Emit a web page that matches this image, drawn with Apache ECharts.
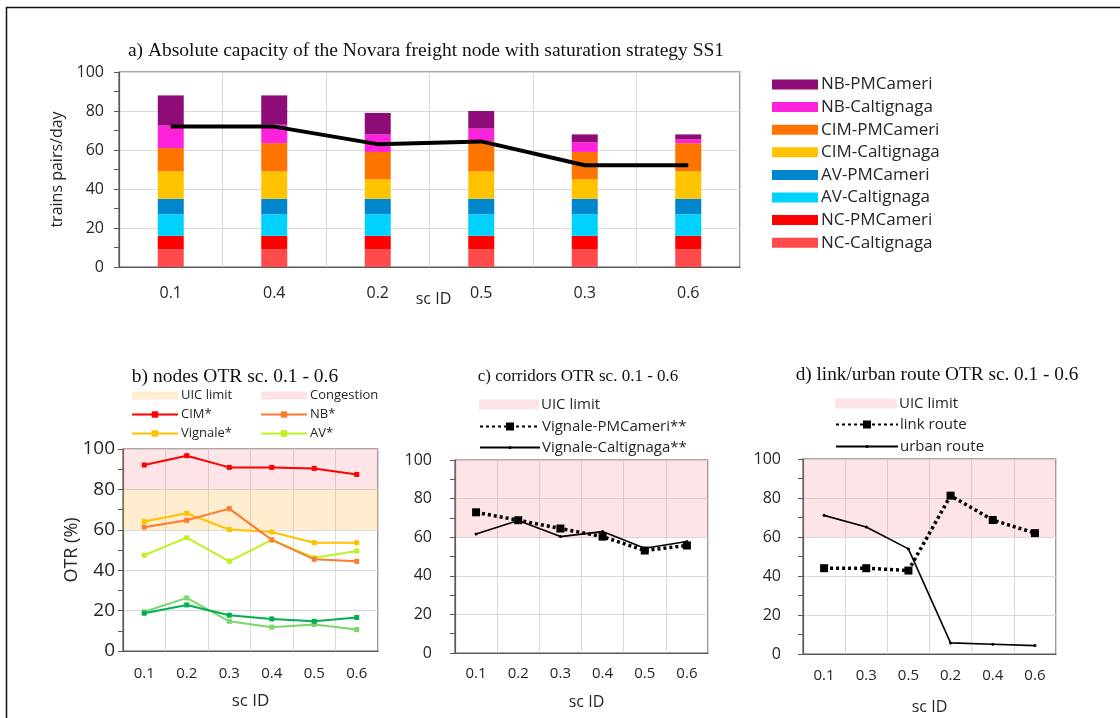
<!DOCTYPE html>
<html>
<head>
<meta charset="utf-8">
<script src="https://cdn.jsdelivr.net/npm/echarts@6/dist/echarts.min.js"></script>
<style>
html,body{margin:0;padding:0;background:#fff;}
#chart{width:1120px;height:718px;}
</style>
</head>
<body>
<div id="chart"></div>
<script>
// ---------- DATA ----------
// a) stacked capacity
const capCategories = ['0.1', '0.4', '0.2', '0.5', '0.3', '0.6'];
const ncCaltignaga  = [9, 9, 9, 9, 9, 9];
const ncPMCameri    = [7, 7, 7, 7, 7, 7];
const avCaltignaga  = [11, 11, 11, 11, 11, 11];
const avPMCameri    = [8, 8, 8, 8, 8, 8];
const cimCaltignaga = [14, 14, 10, 14, 10, 14];
const cimPMCameri   = [12, 14.5, 14, 15.5, 14, 14.5];
const nbCaltignaga  = [11.5, 9.5, 9, 6.5, 5, 2];
const nbPMCameri    = [15.5, 15, 11, 9, 4, 2.5];
const capLine       = [72, 72, 63, 64.4, 52.2, 52.2];
const capTicks      = [0, 20, 40, 60, 80, 100];

// b) nodes OTR
const nodeCategories = ['0.1', '0.2', '0.3', '0.4', '0.5', '0.6'];
const cimOTR      = [92.1, 96.7, 90.9, 90.9, 90.4, 87.4];
const nbOTR       = [61.3, 64.7, 70.5, 55.0, 45.4, 44.4];
const vignaleOTR  = [64.1, 68.2, 60.1, 58.9, 53.6, 53.6];
const avOTR       = [47.4, 56.1, 44.4, 55.0, 46.2, 49.5];
const greenLight  = [19.4, 26.3, 14.7, 11.8, 13.1, 10.6];
const greenDark   = [18.7, 22.8, 17.7, 15.9, 14.7, 16.6];

// c) corridors OTR
const corrCategories = ['0.1', '0.2', '0.3', '0.4', '0.5', '0.6'];
const vignalePMCameri   = [72.9, 68.8, 64.5, 60.3, 53.1, 55.7];
const vignaleCaltignaga = [61.6, 68.6, 60.3, 62.9, 54.3, 57.8];

// d) link / urban route OTR
const routeCategories = ['0.1', '0.3', '0.5', '0.2', '0.4', '0.6'];
const linkRoute  = [44.0, 44.0, 42.8, 81.2, 68.7, 62.0];
const urbanRoute = [71.1, 65.1, 53.9, 5.7, 5.0, 4.3];

// band limits
const uicLimitB   = [60, 80];
const congestionB = [80, 100];
const uicLimitCD  = [60, 100];

// ---------- STYLE ----------
const SANS = '"Open Sans", "Noto Sans", sans-serif';
const SERIF = '"Liberation Serif", "DejaVu Serif", serif';
const AX = '#595959';
const GRIDC = '#d9d9d9';
const TXT = '#262626';
const nulls = capCategories.map(() => null);

function catAxis(grid, data, fs, margin, name, nameGap, nameFs, namePad) {
  return {
    type: 'category', gridIndex: grid, data: data, boundaryGap: true,
    axisLine: {show: true, lineStyle: {color: AX, width: 1.2}},
    axisTick: {show: false},
    axisLabel: {color: TXT, fontFamily: SANS, fontSize: fs, margin: margin},
    splitLine: {show: true, lineStyle: {color: GRIDC, width: 1}},
    name: name, nameLocation: 'middle', nameGap: nameGap, nameMoveOverlap: false,
    nameTextStyle: {color: TXT, fontFamily: SANS, fontSize: nameFs, padding: namePad || 0}
  };
}
function valAxis(grid, fs, margin, name, nameGap, nameFs) {
  return {
    type: 'value', gridIndex: grid, min: 0, max: 100, interval: 20,
    axisLine: {show: true, lineStyle: {color: AX, width: 1.2}},
    axisTick: {show: true, length: 5, lineStyle: {color: AX}},
    minorTick: {show: true, splitNumber: 2, length: 5, lineStyle: {color: AX}},
    axisLabel: {color: TXT, fontFamily: SANS, fontSize: fs, margin: margin},
    splitLine: {show: true, lineStyle: {color: GRIDC, width: 1}},
    name: name, nameLocation: 'middle', nameGap: nameGap, nameMoveOverlap: false,
    nameTextStyle: {color: TXT, fontFamily: SANS, fontSize: nameFs}
  };
}
function barS(name, data, color) {
  return {name: name, type: 'bar', xAxisIndex: 0, yAxisIndex: 0, stack: 'cap',
    data: data, barWidth: 26, itemStyle: {color: color}};
}
function lineS(name, data, color, ax, opts) {
  return Object.assign({
    name: name, type: 'line', xAxisIndex: ax, yAxisIndex: ax, data: data,
    symbol: 'rect', symbolSize: 5, showSymbol: true,
    lineStyle: {color: color, width: 2}, itemStyle: {color: color}, z: 3
  }, opts || {});
}
function bandS(name, ax, range, fill, legendColor) {
  return {
    name: name, type: 'line', xAxisIndex: ax, yAxisIndex: ax, data: nulls,
    symbol: 'none', lineStyle: {color: legendColor, width: 0}, itemStyle: {color: legendColor},
    z: 1, silent: true,
    markArea: {silent: true, itemStyle: {color: fill}, data: [[{yAxis: range[0]}, {yAxis: range[1]}]]}
  };
}
function legendBox(opts) {
  return Object.assign({
    orient: 'vertical', itemWidth: 46, itemHeight: 8, itemGap: 6,
    selectedMode: false, padding: 0,
    textStyle: {color: TXT, fontFamily: SANS, fontSize: 13, padding: [0, 0, 0, -2]}
  }, opts);
}
const legTxt15 = {color: TXT, fontFamily: SANS, fontSize: 15, padding: [0, 0, 0, -3]};

const option = {
  animation: false,
  backgroundColor: '#fff',
  graphic: [
    {type: 'rect', shape: {x: 6.5, y: 7.5, width: 1300, height: 900}, style: {fill: 'none', stroke: '#111', lineWidth: 1.5}, silent: true},
    {type: 'text', x: 426, y: 51, style: {text: 'a) Absolute capacity of the Novara freight node with saturation strategy SS1', font: '19.5px ' + SERIF, fill: '#111', textAlign: 'center', textVerticalAlign: 'middle'}},
    {type: 'text', x: 235, y: 377, style: {text: 'b) nodes OTR sc. 0.1 - 0.6', font: '19.5px ' + SERIF, fill: '#111', textAlign: 'center', textVerticalAlign: 'middle'}},
    {type: 'text', x: 578, y: 377, style: {text: 'c) corridors OTR sc. 0.1 - 0.6', font: '17px ' + SERIF, fill: '#111', textAlign: 'center', textVerticalAlign: 'middle'}},
    {type: 'text', x: 937, y: 375, style: {text: 'd) link/urban route OTR sc. 0.1 - 0.6', font: '19.3px ' + SERIF, fill: '#111', textAlign: 'center', textVerticalAlign: 'middle'}}
  ],
  grid: [
    {left: 119, right: 380, top: 72, bottom: 451, show: true, borderColor: AX, borderWidth: 1.2, backgroundColor: 'transparent'},
    {left: 123, right: 742, top: 449, bottom: 67, show: true, borderColor: AX, borderWidth: 1.2, backgroundColor: 'transparent'},
    {left: 455, right: 412, top: 460, bottom: 65, show: true, borderColor: AX, borderWidth: 1.2, backgroundColor: 'transparent'},
    {left: 803, right: 64, top: 459, bottom: 64, show: true, borderColor: AX, borderWidth: 1.2, backgroundColor: 'transparent'}
  ],
  xAxis: [
    catAxis(0, capCategories, 16, 18, 'sc ID', 24, 16, [0, 0, 0, 8]),
    catAxis(1, nodeCategories, 15, 15, 'sc ID', 42, 17),
    catAxis(2, corrCategories, 15, 13, 'sc ID', 41, 16, [0, 0, 0, 10]),
    catAxis(3, routeCategories, 15, 14, 'sc ID', 45, 16)
  ],
  yAxis: [
    valAxis(0, 16, 15, 'trains pairs/day', 54, 16),
    valAxis(1, 19, 8, 'OTR (%)', 42, 18),
    valAxis(2, 16, 23, '', 0, 16),
    valAxis(3, 16, 22, '', 0, 16)
  ],
  legend: [
    legendBox({left: 772, top: 76, itemHeight: 10, itemGap: 5.6, icon: 'rect',
      textStyle: {color: TXT, fontFamily: SANS, fontSize: 17, padding: [0, 0, 0, -2]},
      data: ['NB-PMCameri', 'NB-Caltignaga', 'CIM-PMCameri', 'CIM-Caltignaga', 'AV-PMCameri', 'AV-Caltignaga', 'NC-PMCameri', 'NC-Caltignaga']}),
    legendBox({left: 131, top: 389, data: [{name: 'UIC limit ', icon: 'rect'}, 'CIM*', 'Vignale*']}),
    legendBox({left: 260, top: 389, data: [{name: 'Congestion', icon: 'rect'}, 'NB*', 'AV*']}),
    legendBox({left: 479, top: 397, itemWidth: 60, itemHeight: 10, textStyle: legTxt15,
      data: [{name: 'UIC limit', icon: 'rect'}]}),
    legendBox({left: 479, top: 419, itemWidth: 60, itemHeight: 10, textStyle: legTxt15,
      data: ['Vignale-PMCameri**']}),
    legendBox({left: 479, top: 440, itemWidth: 60, itemHeight: 4, textStyle: legTxt15,
      data: ['Vignale-Caltignaga**']}),
    legendBox({left: 835, top: 396, itemWidth: 62, itemHeight: 10, textStyle: legTxt15,
      data: [{name: 'UIC limit  ', icon: 'rect'}]}),
    legendBox({left: 835, top: 417, itemWidth: 62, itemHeight: 10, textStyle: legTxt15,
      data: ['link route']}),
    legendBox({left: 835, top: 439, itemWidth: 62, itemHeight: 4, textStyle: legTxt15,
      data: ['urban route']})
  ],
  series: [
    // a)
    barS('NC-Caltignaga', ncCaltignaga, '#ff4b4b'),
    barS('NC-PMCameri', ncPMCameri, '#ff0000'),
    barS('AV-Caltignaga', avCaltignaga, '#00d2ff'),
    barS('AV-PMCameri', avPMCameri, '#0086cc'),
    barS('CIM-Caltignaga', cimCaltignaga, '#ffc300'),
    barS('CIM-PMCameri', cimPMCameri, '#ff7300'),
    barS('NB-Caltignaga', nbCaltignaga, '#ff22dd'),
    barS('NB-PMCameri', nbPMCameri, '#8e0c78'),
    {name: 'capacity', type: 'line', xAxisIndex: 0, yAxisIndex: 0, data: capLine,
      symbol: 'none', lineStyle: {color: '#000', width: 4}, z: 5},
    // b)
    bandS('UIC limit ', 1, uicLimitB, 'rgba(250,190,80,0.28)', '#fdedd0'),
    bandS('Congestion', 1, congestionB, 'rgba(240,130,145,0.22)', '#fde4e7'),
    lineS('green1', greenLight, '#7ad66a', 1),
    lineS('green2', greenDark, '#00b050', 1),
    lineS('AV*', avOTR, '#bff021', 1),
    lineS('Vignale*', vignaleOTR, '#ffc000', 1),
    lineS('NB*', nbOTR, '#ff7a30', 1),
    lineS('CIM*', cimOTR, '#ff0000', 1),
    // c)
    bandS('UIC limit', 2, uicLimitCD, 'rgba(240,130,145,0.22)', '#fde4e7'),
    lineS('Vignale-Caltignaga**', vignaleCaltignaga, '#000', 2,
      {symbol: 'circle', symbolSize: 3, lineStyle: {color: '#000', width: 1.6}}),
    lineS('Vignale-PMCameri**', vignalePMCameri, '#000', 2,
      {symbol: 'rect', symbolSize: 8, lineStyle: {color: '#000', width: 3.5, type: [3, 3]}}),
    // d)
    bandS('UIC limit  ', 3, uicLimitCD, 'rgba(240,130,145,0.22)', '#fde4e7'),
    lineS('urban route', urbanRoute, '#000', 3,
      {symbol: 'circle', symbolSize: 3, lineStyle: {color: '#000', width: 1.6}}),
    lineS('link route', linkRoute, '#000', 3,
      {symbol: 'rect', symbolSize: 8, lineStyle: {color: '#000', width: 3.5, type: [3, 3]}})
  ]
};

const chart = echarts.init(document.getElementById('chart'), null, {renderer: 'canvas'});
chart.setOption(option);
</script>
</body>
</html>
